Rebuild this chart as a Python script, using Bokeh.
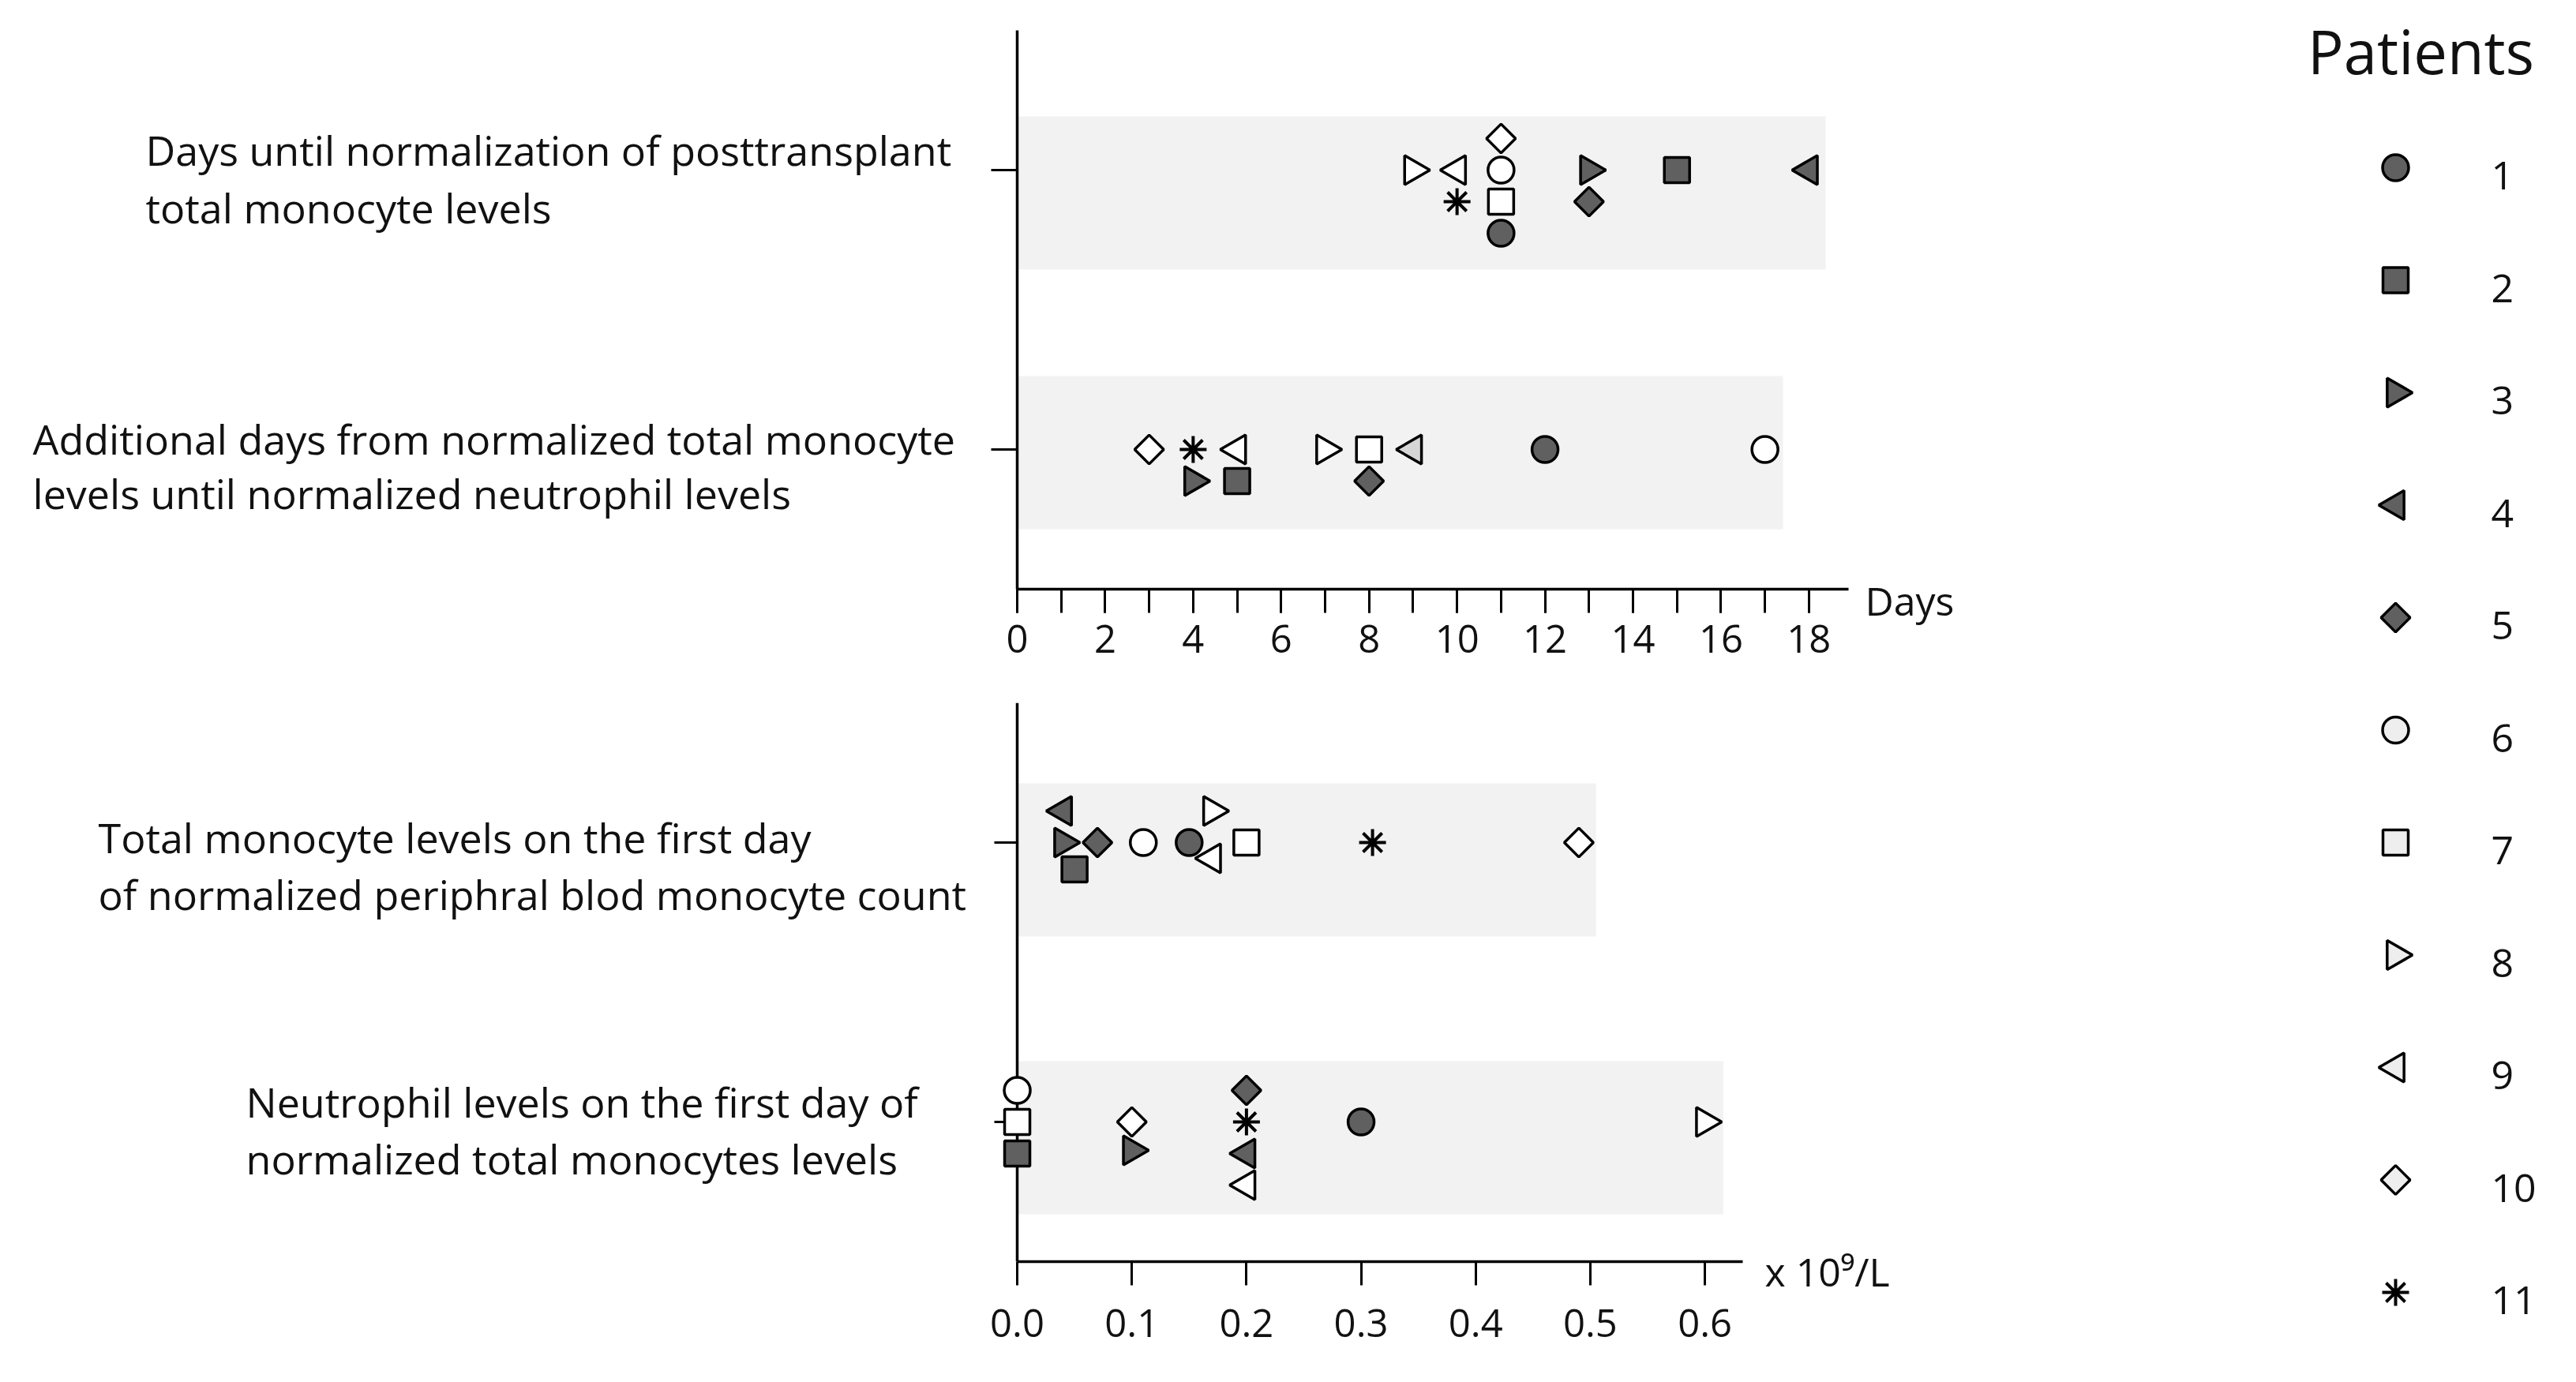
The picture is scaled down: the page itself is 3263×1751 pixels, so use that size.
from math import pi
from bokeh.plotting import figure
from bokeh.layouts import row, column
from bokeh.models import (ColumnDataSource, FactorRange, Range1d, FixedTicker,
                          PrintfTickFormatter)
from bokeh.transform import dodge
from bokeh.core.properties import value
from bokeh.embed import file_html
from bokeh.resources import INLINE

FONT = "Open Sans"

# ---------------- data ----------------
patients = [1, 2, 3, 4, 5, 6, 7, 8, 9, 10, 11]

# panel 1 (days)
cat_days = ["days_to_mono_norm", "extra_days_to_neut"]
cat_days_labels = [
    ("Days until normalization of posttransplant", "total monocyte levels"),
    ("Additional days from normalized total monocyte", "levels until normalized neutrophil levels"),
]
days_to_mono_norm = [11, 15, 13, 18, 13, 11, 11, 9, 10, 11, 10]
days_to_mono_norm_row = [-2, 0, 0, 0, -1, 0, -1, 0, 0, 1, -1]
extra_days_to_neut = [12, 5, 4, 9, 8, 17, 8, 7, 5, 3, 4]
extra_days_to_neut_row = [0, -1, -1, 0, -1, 0, 0, 0, 0, 0, 0]
days_ticks = [0, 2, 4, 6, 8, 10, 12, 14, 16, 18]
days_minor_ticks = list(range(0, 19))
days_unit = "Days"

# panel 2 (x 10^9/L)
cat_levels = ["mono_level", "neut_level"]
cat_levels_labels = [
    ("Total monocyte levels on the first day", "of normalized periphral blod monocyte count"),
    ("Neutrophil levels on the first day of", "normalized total monocytes levels"),
]
mono_level = [0.15, 0.05, 0.04, 0.04, 0.07, 0.11, 0.20, 0.17, 0.17, 0.49, 0.31]
mono_level_row = [0, -0.85, 0, 1, 0, 0, 0, 1, -0.5, 0, 0]
neut_level = [0.30, 0.0, 0.10, 0.20, 0.20, 0.0, 0.0, 0.60, 0.20, 0.10, 0.20]
neut_level_row = [0, -1, -0.9, -1, 1, 1, 0, 0, -2, 0, 0]
level_ticks = [0.0, 0.1, 0.2, 0.3, 0.4, 0.5, 0.6]
level_unit = "x 10\u2079/L"

legend_title = "Patients"

# ---------------- styles / layout ----------------
DARK = "#606060"
OPEN = "white"
INK = "#111111"
marker_of = ["circle", "square", "triangle", "triangle", "square",
             "circle", "square", "triangle", "triangle", "square", "asterisk"]
angle_of = [0, 0, -pi / 2, pi / 2, pi / 4, 0, 0, -pi / 2, pi / 2, pi / 4, 0]
size_of = [33, 32, 37, 37, 26, 33, 32, 37, 37, 26, 34]
fill_of = [DARK] * 5 + [OPEN] * 5 + ["black"]
legend_fill_of = [DARK] * 5 + ["#eeeeee"] * 5 + ["black"]
fill_override = {("extra_days_to_neut", 4): "#d6d6d6"}

TOTAL_W = 3247
FRAME_H = 708
PX_PER_CAT = FRAME_H / 2.0
ROW_STEP = 40 / PX_PER_CAT
TEXT_W = 1248
LEFT_B = 40
LABEL_PX = "52px"
TICK_PX = "49px"

band_extent_days = [18.38, 17.41]
band_extent_levels = [0.505, 0.616]
band_shift_days = [29, 4]        # px, + = down
band_shift_levels = [22, 20]
label_x_days = [184, 41]
label_x_levels = [124, 311]
label_base_days = [(-26, 47), (-14, 55)]    # px baseline offsets from tick (+ = down)
label_base_levels = [(-7, 65), (-26, 46)]

TOP_B1, BOT_B1 = 38, 106
TOP_B2, BOT_B2 = 38, 125
ROW1_H = TOP_B1 + FRAME_H + BOT_B1
ROW2_H = TOP_B2 + FRAME_H + BOT_B2

LEG_PITCH = 142.5
LEG_FIRST = 212


def n_of(py):
    """page pixel row -> legend row units"""
    return 1 + (py - LEG_FIRST) / LEG_PITCH


def style_axes(p):
    p.grid.visible = False
    p.outline_line_color = None
    p.background_fill_color = "white"
    p.border_fill_color = "white"
    for ax in p.xaxis + p.yaxis:
        ax.axis_line_color = "black"
        ax.axis_line_width = 3.5
        ax.major_tick_line_color = "black"
        ax.major_tick_line_width = 3
        ax.minor_tick_line_color = "black"
        ax.minor_tick_line_width = 3
        ax.major_tick_in = 0
        ax.minor_tick_in = 0
        ax.major_label_text_font = FONT
        ax.major_label_text_font_size = TICK_PX
        ax.major_label_text_color = INK
    p.yaxis.major_tick_out = 33
    p.yaxis.major_label_text_font_size = "0px"
    p.yaxis.major_label_standoff = 0


def make_panel(cats, xmin, xmax, frame_w, left_b, right_b, top_b, bot_b,
               values, rows, extents, shifts):
    yr = FactorRange(factors=list(reversed(cats)), range_padding=0)
    p = figure(frame_width=frame_w, frame_height=FRAME_H,
               width=left_b + frame_w + right_b, height=top_b + FRAME_H + bot_b,
               x_range=Range1d(xmin, xmax), y_range=yr,
               min_border_left=left_b, min_border_right=right_b,
               min_border_top=top_b, min_border_bottom=bot_b,
               toolbar_location=None, output_backend="svg")
    style_axes(p)
    for c, ext, sh in zip(cats, extents, shifts):
        src = ColumnDataSource(dict(cat=[c], right=[ext]))
        p.hbar(y=dodge("cat", -sh / PX_PER_CAT, range=yr), left=0, right="right",
               height=194 / PX_PER_CAT, source=src, fill_color="#f2f2f2",
               line_color=None)
    for c, vals, rws in zip(cats, values, rows):
        for i, pat in enumerate(patients):
            src = ColumnDataSource(dict(x=[vals[i]], cat=[c]))
            fill = fill_override.get((c, pat), fill_of[i])
            p.scatter(x="x", y=dodge("cat", rws[i] * ROW_STEP, range=yr), source=src,
                      marker=marker_of[i], size=size_of[i], angle=angle_of[i],
                      fill_color=fill, line_color="black", level="overlay",
                      line_width=4 if marker_of[i] == "asterisk" else 3.5)
    return p, yr


def make_text(yr, cats, labels, xs, bases, top_b, bot_b):
    t = figure(frame_width=TEXT_W, frame_height=FRAME_H, width=TEXT_W,
               height=top_b + FRAME_H + bot_b,
               x_range=Range1d(0, TEXT_W), y_range=yr,
               x_axis_type=None, y_axis_type=None,
               min_border_left=0, min_border_right=0,
               min_border_top=top_b, min_border_bottom=bot_b,
               toolbar_location=None, output_backend="svg")
    t.grid.visible = False
    t.outline_line_color = None
    for c, lines, x0, base in zip(cats, labels, xs, bases):
        for line, b in zip(lines, base):
            src = ColumnDataSource(dict(x=[x0], cat=[c], t=[line]))
            t.text(x="x", y=dodge("cat", -b / PX_PER_CAT, range=yr), text="t",
                   source=src, text_font=value(FONT), text_font_size=LABEL_PX,
                   text_color=INK, text_baseline="alphabetic", text_align="left")
    return t


def make_side(x0, py0, py1):
    """right-hand strip in page-pixel x and legend-row y units"""
    s = figure(width=TOTAL_W - x0, height=py1 - py0,
               x_range=Range1d(x0, TOTAL_W), y_range=Range1d(n_of(py1), n_of(py0)),
               x_axis_type=None, y_axis_type=None, min_border=0,
               toolbar_location=None, output_backend="svg")
    s.grid.visible = False
    s.outline_line_color = None
    inside = [i for i, pat in enumerate(patients) if n_of(py0) <= pat < n_of(py1)]
    for i in inside:
        src = ColumnDataSource(dict(x=[3034], y=[patients[i]]))
        s.scatter(x="x", y="y", source=src, marker=marker_of[i], size=size_of[i],
                  angle=angle_of[i], fill_color=legend_fill_of[i], line_color="black",
                  line_width=4 if marker_of[i] == "asterisk" else 3.5)
    src = ColumnDataSource(dict(x=[3155] * len(inside),
                                y=[patients[i] + 10 / LEG_PITCH for i in inside],
                                t=[str(patients[i]) for i in inside]))
    s.text(x="x", y="y", text="t", source=src, text_font=value(FONT),
           text_font_size="50px", text_color=INK, text_baseline="middle",
           text_align="left")
    return s


# ---- top row ----
TOP_FRAME_W = 1053
top_right_b = 5
top, yr_top = make_panel(cat_days, 0, 18.9, TOP_FRAME_W, LEFT_B, top_right_b,
                         TOP_B1, BOT_B1,
                         [days_to_mono_norm, extra_days_to_neut],
                         [days_to_mono_norm_row, extra_days_to_neut_row],
                         band_extent_days, band_shift_days)
top.xaxis.ticker = FixedTicker(ticks=days_ticks, minor_ticks=days_minor_ticks)
top.xaxis.major_tick_out = 30
top.xaxis.minor_tick_out = 30
top.xaxis.major_label_standoff = 15
txt_top = make_text(yr_top, cat_days, cat_days_labels, label_x_days, label_base_days,
                    TOP_B1, BOT_B1)
x_side1 = TEXT_W + LEFT_B + TOP_FRAME_W + top_right_b
side_top = make_side(x_side1, 0, ROW1_H)
side_top.text(x=[3066], y=[n_of(64)], text=[legend_title], text_font=value(FONT),
              text_font_size="76px", text_color=INK, text_baseline="middle",
              text_align="center")
side_top.text(x=[2362], y=[n_of(760)], text=[days_unit], text_font=value(FONT),
              text_font_size="50px", text_color=INK, text_baseline="middle",
              text_align="left")

# ---- bottom row ----
PX_PER_LEVEL = 1451.7
BOT_XMIN, BOT_XMAX = -0.02, 0.633
BOT_FRAME_W = round((BOT_XMAX - BOT_XMIN) * PX_PER_LEVEL)
bot_left_b = LEFT_B - round(-BOT_XMIN * PX_PER_LEVEL)
bot_right_b = 9
bot, yr_bot = make_panel(cat_levels, BOT_XMIN, BOT_XMAX, BOT_FRAME_W, bot_left_b,
                         bot_right_b, TOP_B2, BOT_B2,
                         [mono_level, neut_level],
                         [mono_level_row, neut_level_row],
                         band_extent_levels, band_shift_levels)
bot.yaxis.fixed_location = 0
bot.xaxis.bounds = (0, BOT_XMAX)
bot.xaxis.ticker = FixedTicker(ticks=level_ticks, minor_ticks=[])
bot.xaxis.formatter = PrintfTickFormatter(format="%.1f")
bot.xaxis.major_tick_out = 30
bot.xaxis.major_label_standoff = 30
txt_bot = make_text(yr_bot, cat_levels, cat_levels_labels, label_x_levels,
                    label_base_levels, TOP_B2, BOT_B2)
x_side2 = TEXT_W + bot_left_b + BOT_FRAME_W + bot_right_b
side_bot = make_side(x_side2, ROW1_H, ROW1_H + ROW2_H)
side_bot.text(x=[2235], y=[n_of(1610)], text=[level_unit], text_font=value(FONT),
              text_font_size="50px", text_color=INK, text_baseline="middle",
              text_align="left")

layout = column(row(txt_top, top, column(side_top)),
                row(txt_bot, bot, column(side_bot)))
open("out.html", "w").write(file_html(layout, INLINE))
